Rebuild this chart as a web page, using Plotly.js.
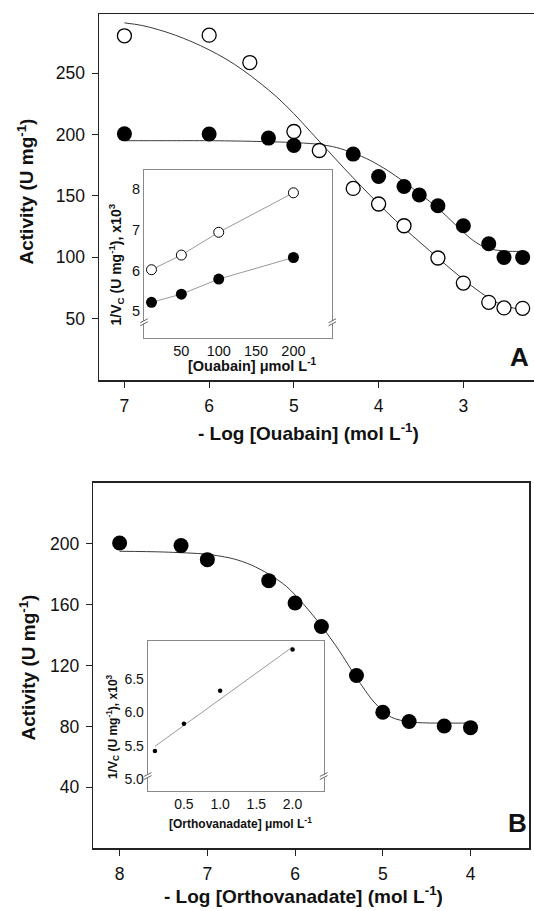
<!DOCTYPE html>
<html>
<head>
<meta charset="utf-8">
<script src="https://cdn.plot.ly/plotly-3.0.1.min.js"></script>
<style>html,body{margin:0;padding:0;background:#fff;}#chart{width:534px;height:911px;}</style>
</head>
<body>
<div id="chart"></div>
<script>
// ---------- Panel A : ouabain ----------
const ouabOpenX = [7, 6, 5.52, 5, 4.70, 4.30, 4, 3.70, 3.30, 3, 2.70, 2.52, 2.30];
const ouabOpenY = [280.5, 281, 258.7, 202.5, 187, 156.1, 143.4, 125.7, 99.4, 79, 63.3, 58.7, 58.4];
const ouabFillX = [7, 6, 5.30, 5, 4.30, 4, 3.70, 3.52, 3.30, 3, 2.70, 2.52, 2.30];
const ouabFillY = [200.6, 200.5, 197.1, 191.1, 184.1, 165.8, 157.7, 150.7, 142, 125.7, 111, 99.9, 99.9];
const ouabOpenCurveX = [7.0, 6.8, 6.6, 6.4, 6.2, 6.0, 5.8, 5.6, 5.4, 5.2, 5.0, 4.8, 4.6, 4.4, 4.2, 4.0, 3.8, 3.6, 3.4, 3.2, 3.0, 2.8, 2.6, 2.4, 2.3];
const ouabOpenCurveY = [291, 289, 285.5, 281, 275.5, 269, 261.5, 252.5, 242, 230.5, 217, 202, 187, 172, 157.5, 143.5, 130, 117.5, 105.5, 93.5, 82, 71.5, 63, 58.5, 57.3];
const ouabFillCurveX = [7.0, 6.5, 6.0, 5.5, 5.0, 4.7, 4.5, 4.3, 4.1, 3.9, 3.7, 3.5, 3.3, 3.1, 3.0, 2.9, 2.8, 2.7, 2.5, 2.3];
const ouabFillCurveY = [195, 195, 195, 194.5, 193.5, 192, 189.5, 185, 179, 171, 161.5, 151, 140, 127, 120.5, 114.5, 110, 107, 105, 104.8];
const ouabTicksX = [7, 6, 5, 4, 3];
const ouabTicksY = [50, 100, 150, 200, 250];

// inset A
const insetAX = [10, 50, 100, 200];
const insetAOpenY = [6.02, 6.38, 6.94, 7.91];
const insetAFillY = [5.22, 5.42, 5.79, 6.32];
const insetATicksX = [50, 100, 150, 200];
const insetATicksY = [5, 6, 7, 8];

// ---------- Panel B : orthovanadate ----------
const orthoX = [8, 7.3, 7, 6.3, 6, 5.7, 5.3, 5, 4.7, 4.3, 4];
const orthoY = [200.4, 198.7, 189.5, 175.7, 161, 145.6, 113.4, 89.3, 83.2, 80.3, 79.2];
const orthoCurveX = [8.0, 7.5, 7.0, 6.7, 6.5, 6.3, 6.1, 5.9, 5.7, 5.5, 5.3, 5.1, 4.9, 4.7, 4.5, 4.3, 4.0];
const orthoCurveY = [195, 194.5, 193, 190, 186, 180, 172, 160, 146, 130, 112, 96, 86, 83, 82.3, 82.2, 82.2];
const orthoTicksX = [8, 7, 6, 5, 4];
const orthoTicksY = [40, 80, 120, 160, 200];

// inset B
const insetBX = [0.1, 0.5, 1.0, 2.0];
const insetBY = [5.42, 5.83, 6.33, 6.95];
const insetBFitX = [0.1, 2.0];
const insetBFitY = [5.49, 6.99];
const insetBTicksX = [0.5, 1.0, 1.5, 2.0];
const insetBTicksY = [5.0, 5.5, 6.0, 6.5];

const W = 534, H = 911;
const px = v => v / W;
const py = v => 1 - v / H;
const FONT = 'Liberation Sans, Arial, sans-serif';
const curveColor = '#3a3a3a';
const insetLine = '#9a9a9a';

const traces = [
  {x: ouabOpenCurveX, y: ouabOpenCurveY, xaxis: 'x', yaxis: 'y', mode: 'lines',
   line: {color: curveColor, width: 1, shape: 'spline', smoothing: 1}, hoverinfo: 'skip'},
  {x: ouabFillCurveX, y: ouabFillCurveY, xaxis: 'x', yaxis: 'y', mode: 'lines',
   line: {color: curveColor, width: 1, shape: 'spline', smoothing: 0.8}, hoverinfo: 'skip'},
  {x: ouabFillX, y: ouabFillY, xaxis: 'x', yaxis: 'y', mode: 'markers',
   marker: {size: 15, color: '#000', line: {width: 0}}},
  {x: ouabOpenX, y: ouabOpenY, xaxis: 'x', yaxis: 'y', mode: 'markers',
   marker: {size: 14, color: '#fff', line: {width: 1.3, color: '#000'}}},
  {x: insetAX, y: insetAOpenY, xaxis: 'x2', yaxis: 'y2', mode: 'lines+markers',
   line: {color: insetLine, width: 1},
   marker: {size: 10, color: '#fff', line: {width: 1, color: '#000'}}},
  {x: insetAX, y: insetAFillY, xaxis: 'x2', yaxis: 'y2', mode: 'lines+markers',
   line: {color: insetLine, width: 1},
   marker: {size: 11, color: '#000', line: {width: 0}}},
  {x: orthoCurveX, y: orthoCurveY, xaxis: 'x3', yaxis: 'y3', mode: 'lines',
   line: {color: curveColor, width: 1, shape: 'spline', smoothing: 0.8}, hoverinfo: 'skip'},
  {x: orthoX, y: orthoY, xaxis: 'x3', yaxis: 'y3', mode: 'markers',
   marker: {size: 15, color: '#000', line: {width: 0}}},
  {x: insetBFitX, y: insetBFitY, xaxis: 'x4', yaxis: 'y4', mode: 'lines',
   line: {color: insetLine, width: 1}},
  {x: insetBX, y: insetBY, xaxis: 'x4', yaxis: 'y4', mode: 'markers',
   marker: {size: 4.5, color: '#000', line: {width: 0}}}
];

function mainAxis(o) {
  return Object.assign({
    showgrid: false, zeroline: false, showline: true, linecolor: '#222', linewidth: 1.5,
    ticks: 'outside', ticklen: 6, tickwidth: 1, tickcolor: '#222', ticklabelstandoff: 3,
    tickfont: {family: FONT, size: 17.5, color: '#111'}, tickmode: 'array'
  }, o);
}
function insetAxis(o) {
  return Object.assign({
    showgrid: false, zeroline: false, showline: true, linecolor: '#8a8a8a', linewidth: 1,
    mirror: true, ticks: '', tickfont: {family: FONT, size: 14.5, color: '#111'}, tickmode: 'array'
  }, o);
}

const layout = {
  width: W, height: H, margin: {l: 0, r: 0, t: 0, b: 0},
  paper_bgcolor: '#fff', plot_bgcolor: 'rgba(0,0,0,0)', showlegend: false,
  font: {family: FONT, color: '#111'},
  xaxis: mainAxis({domain: [px(99), 1], range: [7.30, 2.166], tickvals: ouabTicksX, mirror: true, anchor: 'y'}),
  yaxis: mainAxis({domain: [py(380), py(14.3)], range: [0, 298], tickvals: ouabTicksY, anchor: 'x'}),
  xaxis2: insetAxis({domain: [px(144), px(332.3)], range: [0, 252], tickvals: insetATicksX, anchor: 'y2'}),
  yaxis2: insetAxis({domain: [py(337.7), py(170)], range: [4.35, 8.47], tickvals: insetATicksY, anchor: 'x2'}),
  xaxis3: mainAxis({domain: [px(93.3), px(529.3)], range: [8.30, 3.33], tickvals: orthoTicksX, mirror: true, anchor: 'y3'}),
  yaxis3: mainAxis({domain: [py(848.3), py(482.7)], range: [0, 240], tickvals: orthoTicksY, mirror: true, anchor: 'x3'}),
  xaxis4: insetAxis({domain: [px(147.7), px(323.7)], range: [0, 2.43], tickvals: insetBTicksX, tickformat: '.1f',
                     tickfont: {family: FONT, size: 14, color: '#111'}, anchor: 'y4'}),
  yaxis4: insetAxis({domain: [py(790.7), py(641)], range: [4.82, 7.08], tickvals: insetBTicksY, tickformat: '.1f',
                     tickfont: {family: FONT, size: 14, color: '#111'}, anchor: 'x4'}),
  annotations: [
    {text: '<b>Activity (U mg<sup>-1</sup>)</b>', xref: 'paper', yref: 'paper', x: px(25.5), y: py(192),
     textangle: -90, showarrow: false, font: {family: FONT, size: 19, color: '#111'}, xanchor: 'center', yanchor: 'middle'},
    {text: '<b>- Log [Ouabain] (mol L<sup>-1</sup>)</b>', xref: 'paper', yref: 'paper', x: px(308), y: py(432),
     showarrow: false, font: {family: FONT, size: 19, color: '#111'}, xanchor: 'center', yanchor: 'middle'},
    {text: '<b>A</b>', xref: 'paper', yref: 'paper', x: px(519), y: py(357),
     showarrow: false, font: {family: FONT, size: 26, color: '#111'}, xanchor: 'center', yanchor: 'middle'},
    {text: '<b>1/V<sub>C</sub> (U mg<sup>-1</sup>), x10<sup>3</sup></b>', xref: 'paper', yref: 'paper', x: px(116.5), y: py(265),
     textangle: -90, showarrow: false, font: {family: FONT, size: 14, color: '#111'}, xanchor: 'center', yanchor: 'middle'},
    {text: '<b>[Ouabain] μmol L<sup>-1</sup></b>', xref: 'paper', yref: 'paper', x: px(252), y: py(365),
     showarrow: false, font: {family: FONT, size: 14.5, color: '#111'}, xanchor: 'center', yanchor: 'middle'},
    {text: '<b>Activity (U mg<sup>-1</sup>)</b>', xref: 'paper', yref: 'paper', x: px(27), y: py(667.5),
     textangle: -90, showarrow: false, font: {family: FONT, size: 19, color: '#111'}, xanchor: 'center', yanchor: 'middle'},
    {text: '<b>- Log [Orthovanadate] (mol L<sup>-1</sup>)</b>', xref: 'paper', yref: 'paper', x: px(303), y: py(895),
     showarrow: false, font: {family: FONT, size: 19, color: '#111'}, xanchor: 'center', yanchor: 'middle'},
    {text: '<b>B</b>', xref: 'paper', yref: 'paper', x: px(517.5), y: py(822.5),
     showarrow: false, font: {family: FONT, size: 26, color: '#111'}, xanchor: 'center', yanchor: 'middle'},
    {text: '<b>1/V<sub>C</sub> (U mg<sup>-1</sup>), x10<sup>3</sup></b>', xref: 'paper', yref: 'paper', x: px(112.3), y: py(726.7),
     textangle: -90, showarrow: false, font: {family: FONT, size: 12, color: '#111'}, xanchor: 'center', yanchor: 'middle'},
    {text: '<b>[Orthovanadate] μmol L<sup>-1</sup></b>', xref: 'paper', yref: 'paper', x: px(240), y: py(823),
     showarrow: false, font: {family: FONT, size: 12, color: '#111'}, xanchor: 'center', yanchor: 'middle'}
  ],
  shapes: []
};

function breakMarks(xr, yr, yb, dx, dy, sep) {
  [0, 1].forEach(xe => {
    layout.shapes.push({type: 'rect', xref: xr, yref: yr, x0: xe - dx * 0.6, x1: xe + dx * 0.6,
      y0: yb - sep / 2, y1: yb + sep / 2, fillcolor: '#fff', line: {width: 0}, layer: 'above'});
    [-sep / 2, sep / 2].forEach(o => {
      layout.shapes.push({type: 'line', xref: xr, yref: yr, x0: xe - dx, x1: xe + dx,
        y0: yb + o - dy, y1: yb + o + dy, line: {color: '#666', width: 1}, layer: 'above'});
    });
  });
}
breakMarks('x2 domain', 'y2 domain', 0.092, 0.02, 0.012, 0.018);
breakMarks('x4 domain', 'y4 domain', 0.098, 0.022, 0.013, 0.02);

Plotly.newPlot('chart', traces, layout, {displayModeBar: false, staticPlot: true});
</script>
</body>
</html>
